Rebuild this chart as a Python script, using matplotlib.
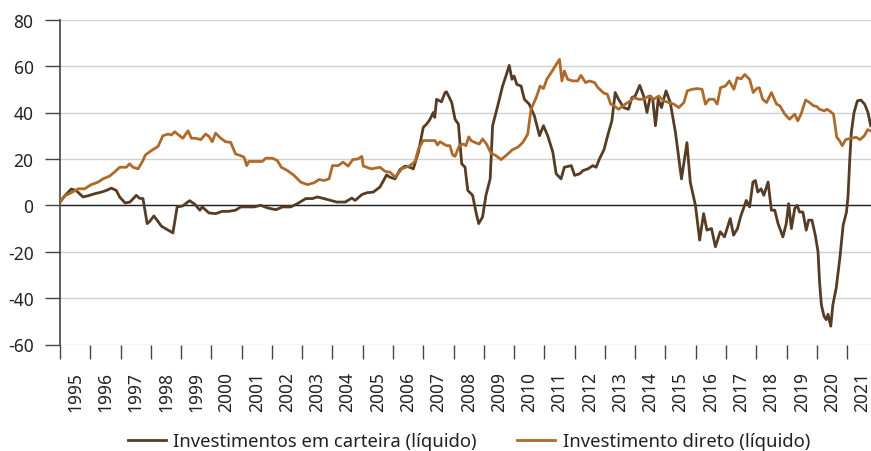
import matplotlib
matplotlib.use("Agg")
import matplotlib.pyplot as plt
from matplotlib.ticker import FixedLocator, NullFormatter, FixedFormatter

plt.rcParams['font.family'] = ['Noto Sans', 'DejaVu Sans']

# ---- data (decimal year, % value) ----
port_t = [1995.04, 1995.15, 1995.37, 1995.53, 1995.76, 1995.98, 1996.15, 1996.37, 1996.53, 1996.70,
          1996.86, 1996.97, 1997.15, 1997.31, 1997.52, 1997.63, 1997.74, 1997.88, 1997.96, 1998.10,
          1998.24, 1998.35, 1998.57, 1998.73, 1998.87, 1999.05, 1999.28, 1999.45, 1999.62, 1999.70,
          1999.92, 2000.14, 2000.36, 2000.58, 2000.80, 2000.97, 2001.41, 2001.63, 2001.85, 2002.13,
          2002.35, 2002.62, 2002.84, 2003.12, 2003.34, 2003.50, 2003.72, 2003.94, 2004.14, 2004.42,
          2004.64, 2004.75, 2004.97, 2005.13, 2005.35, 2005.57, 2005.79, 2005.90, 2006.07, 2006.23,
          2006.40, 2006.56, 2006.67, 2006.84, 2007.00, 2007.11, 2007.22, 2007.33, 2007.38, 2007.44,
          2007.60, 2007.72, 2007.77, 2007.94, 2008.05, 2008.16, 2008.27, 2008.38, 2008.47, 2008.63,
          2008.74, 2008.83, 2008.96, 2009.07, 2009.21, 2009.29, 2009.46, 2009.62, 2009.73, 2009.84,
          2009.93, 2010.00, 2010.09, 2010.23, 2010.34, 2010.50, 2010.67, 2010.84, 2010.97, 2011.11,
          2011.28, 2011.39, 2011.55, 2011.66, 2011.89, 2012.00, 2012.17, 2012.28, 2012.44, 2012.60,
          2012.71, 2012.82, 2012.97, 2013.12, 2013.23, 2013.34, 2013.45, 2013.62, 2013.78, 2013.89,
          2014.00, 2014.15, 2014.28, 2014.39, 2014.50, 2014.58, 2014.67, 2014.76, 2014.87, 2014.94,
          2015.02, 2015.16, 2015.33, 2015.53, 2015.71, 2015.82, 2015.99, 2016.13, 2016.26, 2016.37,
          2016.52, 2016.65, 2016.81, 2016.95, 2017.14, 2017.25, 2017.38, 2017.48, 2017.67, 2017.78,
          2017.89, 2017.97, 2018.05, 2018.16, 2018.25, 2018.39, 2018.50, 2018.61, 2018.72, 2018.88,
          2018.99, 2019.07, 2019.16, 2019.27, 2019.35, 2019.43, 2019.54, 2019.65, 2019.73, 2019.84,
          2019.95, 2020.04, 2020.09, 2020.15, 2020.24, 2020.31, 2020.37, 2020.46, 2020.53, 2020.64,
          2020.76, 2020.87, 2020.98, 2021.03, 2021.09, 2021.14, 2021.23, 2021.34, 2021.45, 2021.58,
          2021.69, 2021.78]
port_v = [2.0, 4.0, 7.0, 6.4, 3.6, 4.3, 5.0, 5.7, 6.4, 7.4,
          6.4, 3.6, 1.0, 1.4, 4.3, 3.0, 2.9, -7.9, -7.0, -4.6,
          -7.0, -9.0, -10.7, -11.9, -0.7, -0.3, 2.0, 0.5, -2.1, -0.7,
          -3.3, -3.6, -2.6, -2.6, -2.1, -0.7, -0.7, 0.0, -1.1, -1.9,
          -0.7, -0.7, 0.7, 2.9, 2.9, 3.6, 2.9, 2.1, 1.4, 1.4,
          3.1, 2.1, 4.6, 5.4, 5.7, 7.9, 13.1, 12.1, 11.4, 15.4,
          16.9, 16.4, 15.7, 22.9, 33.6, 35.0, 37.0, 40.0, 37.9, 45.7,
          44.6, 48.6, 48.9, 44.3, 37.1, 35.0, 17.9, 16.4, 6.4, 4.3,
          -2.9, -7.9, -5.0, 4.3, 11.4, 34.3, 42.9, 51.4, 55.7, 60.3,
          54.3, 55.7, 52.1, 51.4, 45.7, 43.6, 38.6, 30.0, 34.3, 30.0,
          22.9, 13.6, 11.4, 16.4, 17.1, 12.9, 13.6, 15.0, 15.7, 17.1,
          16.4, 20.0, 24.0, 31.4, 36.4, 48.6, 45.7, 42.1, 41.4, 46.4,
          47.1, 51.7, 47.1, 40.0, 47.1, 45.7, 34.3, 45.7, 42.1, 45.7,
          49.3, 44.3, 31.4, 11.4, 27.0, 10.0, 0.0, -15.0, -3.6, -10.7,
          -10.0, -17.9, -11.4, -13.6, -5.7, -12.9, -10.0, -5.0, 2.1, -0.7,
          10.0, 10.7, 5.7, 7.1, 4.3, 10.0, -2.1, -2.1, -7.9, -13.6,
          -7.9, 0.7, -10.0, -1.4, 0.0, -2.9, -2.9, -10.7, -6.4, -6.4,
          -12.9, -20.0, -32.9, -42.9, -47.9, -49.3, -47.0, -52.1, -42.9, -35.7,
          -22.9, -8.6, -2.9, 3.6, 20.0, 31.4, 40.0, 45.0, 45.4, 43.6,
          40.0, 34.3]

dir_t = [1995.04, 1995.15, 1995.37, 1995.60, 1995.81, 1996.03, 1996.26, 1996.42, 1996.64, 1996.80,
         1996.97, 1997.19, 1997.30, 1997.41, 1997.58, 1997.74, 1997.82, 1998.02, 1998.24, 1998.40,
         1998.57, 1998.68, 1998.79, 1998.95, 1999.06, 1999.23, 1999.34, 1999.48, 1999.65, 1999.81,
         1999.92, 2000.03, 2000.14, 2000.31, 2000.47, 2000.64, 2000.80, 2000.97, 2001.08, 2001.17,
         2001.24, 2001.52, 2001.68, 2001.80, 2002.01, 2002.18, 2002.31, 2002.51, 2002.73, 2002.95,
         2003.17, 2003.39, 2003.56, 2003.73, 2003.89, 2004.00, 2004.19, 2004.35, 2004.52, 2004.67,
         2004.85, 2004.97, 2005.02, 2005.29, 2005.57, 2005.74, 2005.90, 2006.07, 2006.29, 2006.56,
         2006.73, 2006.84, 2007.00, 2007.22, 2007.39, 2007.47, 2007.55, 2007.77, 2007.88, 2007.97,
         2008.05, 2008.19, 2008.32, 2008.41, 2008.50, 2008.58, 2008.74, 2008.85, 2008.96, 2009.09,
         2009.23, 2009.40, 2009.57, 2009.73, 2009.95, 2010.12, 2010.29, 2010.45, 2010.56, 2010.73,
         2010.86, 2010.97, 2011.08, 2011.26, 2011.39, 2011.50, 2011.58, 2011.66, 2011.77, 2011.94,
         2012.10, 2012.21, 2012.36, 2012.49, 2012.66, 2012.77, 2012.97, 2013.08, 2013.19, 2013.30,
         2013.45, 2013.67, 2013.84, 2013.95, 2014.12, 2014.28, 2014.45, 2014.61, 2014.78, 2014.94,
         2015.11, 2015.28, 2015.44, 2015.61, 2015.72, 2015.88, 2016.05, 2016.21, 2016.32, 2016.44,
         2016.60, 2016.71, 2016.82, 2016.98, 2017.11, 2017.26, 2017.37, 2017.50, 2017.62, 2017.78,
         2017.90, 2018.01, 2018.10, 2018.21, 2018.34, 2018.50, 2018.67, 2018.78, 2018.94, 2019.10,
         2019.27, 2019.37, 2019.48, 2019.63, 2019.76, 2019.89, 2020.00, 2020.09, 2020.25, 2020.33,
         2020.42, 2020.55, 2020.66, 2020.75, 2020.84, 2020.95, 2021.13, 2021.30, 2021.43, 2021.57,
         2021.68, 2021.78]
dir_v = [2.1, 4.0, 5.4, 7.1, 7.1, 8.9, 10.0, 11.4, 12.6, 14.3,
         16.4, 16.4, 17.9, 16.4, 15.7, 19.3, 21.7, 23.6, 25.4, 30.0,
         30.7, 30.3, 31.7, 30.0, 28.9, 32.1, 28.9, 28.9, 28.3, 30.7,
         29.7, 27.4, 31.1, 28.9, 27.4, 27.1, 22.1, 21.4, 20.7, 17.1,
         18.9, 18.9, 18.9, 20.3, 20.3, 19.3, 16.4, 15.0, 12.9, 10.0,
         8.9, 9.7, 11.1, 10.7, 11.4, 17.1, 17.1, 18.6, 16.9, 19.7,
         20.0, 21.1, 16.9, 15.7, 16.4, 14.6, 14.3, 12.1, 15.7, 17.1,
         18.9, 24.3, 27.9, 27.9, 27.9, 26.0, 27.4, 25.7, 25.7, 21.7,
         21.1, 25.7, 26.4, 25.7, 29.5, 27.9, 26.9, 26.4, 28.6, 26.4,
         22.6, 21.4, 19.7, 21.4, 24.0, 25.0, 27.1, 30.7, 41.4, 46.4,
         51.4, 50.3, 54.3, 57.9, 60.7, 62.9, 53.6, 57.9, 54.3, 53.6,
         53.6, 56.0, 52.9, 53.6, 52.9, 50.7, 48.3, 47.9, 43.6, 42.9,
         41.4, 43.6, 45.0, 46.4, 45.7, 45.7, 47.1, 45.7, 47.1, 45.0,
         44.3, 43.6, 42.1, 44.3, 49.3, 50.0, 50.3, 50.0, 43.6, 45.7,
         45.7, 43.6, 50.7, 51.4, 53.6, 50.0, 55.0, 54.5, 56.4, 54.3,
         48.6, 50.3, 50.7, 45.7, 44.3, 48.6, 43.6, 42.9, 39.3, 37.1,
         39.3, 36.4, 39.3, 45.4, 44.3, 42.9, 42.6, 41.4, 40.7, 41.4,
         40.7, 39.3, 29.3, 27.9, 25.7, 28.3, 28.9, 29.3, 28.3, 30.0,
         32.6, 32.1]

years = list(range(1995, 2022))
year_labels = [str(y) for y in years]
y_ticks = [-60, -40, -20, 0, 20, 40, 60, 80]
series_names = ["Investimentos em carteira (líquido)", "Investimento direto (líquido)"]

c_port = "#563b25"
c_dir = "#ad6a2a"

fig = plt.figure(figsize=(8.71, 4.52), dpi=100)
ax = fig.add_axes([60/871, 1 - 345.5/452, 1 - 60/871, (345.5 - 20.7)/452])

ax.plot(port_t, port_v, color=c_port, lw=2.0, label=series_names[0], zorder=3, solid_joinstyle='round')
ax.plot(dir_t, dir_v, color=c_dir, lw=2.0, label=series_names[1], zorder=3, solid_joinstyle='round')

ax.set_xlim(1995.0, 2021.79)
ax.set_ylim(-60, 80)

ax.set_yticks(y_ticks)
ax.set_yticklabels([str(v) for v in y_ticks])
ax.grid(axis='y', color='#d0d0d0', lw=1.0, zorder=0)
ax.axhline(0, color='#222222', lw=1.0, zorder=2)

ax.xaxis.set_major_locator(FixedLocator(years))
ax.xaxis.set_major_formatter(NullFormatter())
ax.xaxis.set_minor_locator(FixedLocator([y + 0.5 for y in years]))
ax.xaxis.set_minor_formatter(FixedFormatter(year_labels))
ax.tick_params(axis='x', which='major', length=10, width=1.0, color='#444444', direction='out')
ax.tick_params(axis='x', which='minor', length=0, pad=19, labelsize=12.5, labelrotation=90, labelcolor='#222222')
ax.tick_params(axis='y', length=11, width=1.0, color='#444444', pad=8, labelsize=12.5, labelcolor='#222222')

for s in ['top', 'right', 'bottom']:
    ax.spines[s].set_visible(False)
ax.spines['left'].set_color('#444444')
ax.spines['left'].set_linewidth(1.2)

fig.legend(loc='center', bbox_to_anchor=(469/871, 1 - 442/452), ncol=2, frameon=False,
           fontsize=13.3, handlelength=2.05, handletextpad=0.4, columnspacing=2.2,
           labelcolor='#222222')

fig.savefig("out.png", dpi=100)
